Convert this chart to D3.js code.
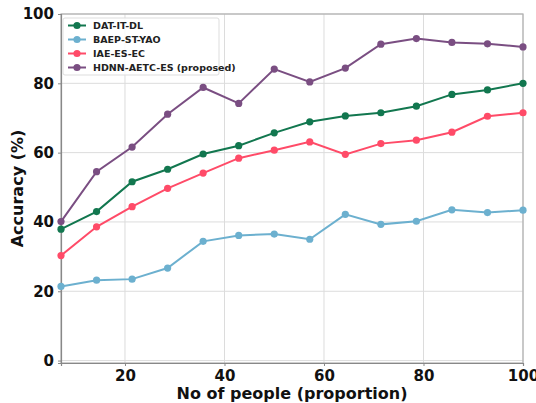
<!DOCTYPE html>
<html lang="en">
<head>
<meta charset="UTF-8">
<title>Accuracy chart</title>
<script src="https://d3js.org/d3.v7.min.js"></script>
<style>
  body { margin: 0; background: #fff; }
  text { font-family: "DejaVu Sans", sans-serif; font-weight: bold; }
</style>
</head>
<body>
<svg width="536" height="403"></svg>
<script>
    // data
    var people = [7.14, 14.29, 21.43, 28.57, 35.71, 42.86, 50, 57.14, 64.29, 71.43, 78.57, 85.71, 92.86, 100];
    var datItDl = [37.9, 43.0, 51.6, 55.2, 59.6, 62.0, 65.7, 68.9, 70.6, 71.5, 73.4, 76.8, 78.1, 80.0];
    var baepStYao = [21.4, 23.2, 23.5, 26.7, 34.4, 36.1, 36.5, 35.0, 42.2, 39.3, 40.2, 43.5, 42.7, 43.4];
    var iaeEsEc = [30.3, 38.6, 44.4, 49.7, 54.1, 58.4, 60.7, 63.1, 59.5, 62.6, 63.6, 65.9, 70.5, 71.5];
    var hdnn = [40.1, 54.5, 61.6, 71.1, 78.8, 74.2, 84.1, 80.4, 84.4, 91.3, 92.9, 91.8, 91.4, 90.5];
    var xTicks = [20, 40, 60, 80, 100];
    var yTicks = [0, 20, 40, 60, 80, 100];

    var series = [
        {name: "DAT-IT-DL", values: datItDl, color: "#12774f"},
        {name: "BAEP-ST-YAO", values: baepStYao, color: "#6cb0cf"},
        {name: "IAE-ES-EC", values: iaeEsEc, color: "#ff4b68"},
        {name: "HDNN-AETC-ES (proposed)", values: hdnn, color: "#7a4e82"}
    ];

    var margin = {top: 14, right: 13, bottom: 40, left: 61},
        width = 536 - margin.left - margin.right,
        height = 403 - margin.top - margin.bottom;

    var svg = d3.select("svg")
        .append("g")
        .attr("transform", "translate(" + margin.left + "," + margin.top + ")");

    var x = d3.scaleLinear().domain([7.14, 100]).range([0, width]);
    var y = d3.scaleLinear().domain([-0.7, 100]).range([height, 0]);

    // grid
    svg.append("g").selectAll("line")
        .data(xTicks)
        .enter().append("line")
        .attr("x1", d => x(d)).attr("x2", d => x(d))
        .attr("y1", 0).attr("y2", height)
        .style("stroke", "#dcdcdc").style("stroke-width", 1);
    svg.append("g").selectAll("line")
        .data(yTicks)
        .enter().append("line")
        .attr("x1", 0).attr("x2", width)
        .attr("y1", d => y(d)).attr("y2", d => y(d))
        .style("stroke", "#dcdcdc").style("stroke-width", 1);

    // frame
    svg.append("rect")
        .attr("width", width).attr("height", height)
        .style("fill", "none").style("stroke", "#b0b0b0").style("stroke-width", 1.2);

    // axes
    var xAxis = svg.append("g")
        .attr("transform", "translate(0," + height + ")")
        .call(d3.axisBottom(x).tickValues(xTicks).tickSize(3).tickPadding(4));
    var yAxis = svg.append("g")
        .call(d3.axisLeft(y).tickValues(yTicks).tickSize(3).tickPadding(4));
    [xAxis, yAxis].forEach(function(a) {
        a.select(".domain").style("stroke", "#888").style("stroke-width", 1.2);
        a.selectAll(".tick line").style("stroke", "#888");
        a.selectAll(".tick text").style("font-size", "15px").style("fill", "#111");
    });

    // lines + markers
    var line = d3.line()
        .x((d, i) => x(people[i]))
        .y(d => y(d));

    series.forEach(function(s) {
        svg.append("path")
            .datum(s.values)
            .attr("d", line)
            .style("fill", "none")
            .style("stroke", s.color)
            .style("stroke-width", 2);
        svg.append("g").selectAll("circle")
            .data(s.values)
            .enter().append("circle")
            .attr("cx", (d, i) => x(people[i]))
            .attr("cy", d => y(d))
            .attr("r", 3.6)
            .style("fill", s.color);
    });

    // axis labels
    svg.append("text")
        .attr("x", width / 2)
        .attr("y", height + 36)
        .style("text-anchor", "middle")
        .style("font-size", "16px")
        .style("fill", "#111")
        .text("No of people (proportion)");

    svg.append("text")
        .attr("x", -(height / 2))
        .attr("y", -38)
        .attr("transform", "rotate(-90)")
        .style("text-anchor", "middle")
        .style("font-size", "16px")
        .style("fill", "#111")
        .text("Accuracy (%)");

    // legend
    var legend = svg.append("g").attr("transform", "translate(2,4)");
    legend.append("rect")
        .attr("width", 156).attr("height", 57)
        .attr("rx", 2)
        .style("fill", "#fff").style("fill-opacity", 0.85)
        .style("stroke", "#dddddd");
    series.forEach(function(s, i) {
        var g = legend.append("g").attr("transform", "translate(0," + (7.5 + i * 14) + ")");
        g.append("line")
            .attr("x1", 5).attr("x2", 23)
            .style("stroke", s.color).style("stroke-width", 2);
        g.append("circle").attr("cx", 14).attr("r", 3.6).style("fill", s.color);
        g.append("text")
            .attr("x", 30).attr("y", 3.5)
            .style("font-size", "9.5px")
            .style("fill", "#222")
            .text(s.name);
    });
</script>
</body>
</html>
